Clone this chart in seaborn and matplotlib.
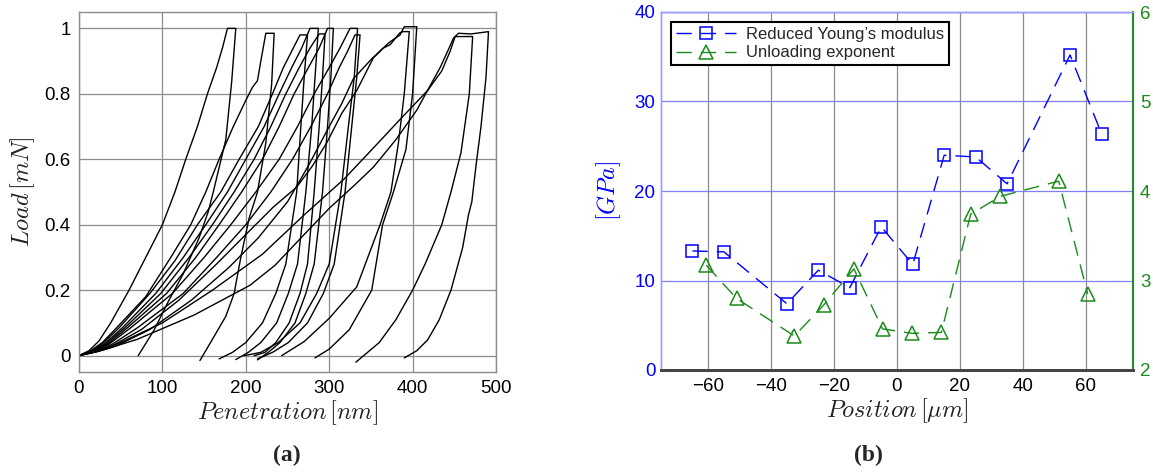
import matplotlib
matplotlib.use("Agg")
import matplotlib.pyplot as plt
import numpy as np
import pandas as pd
import seaborn as sns
from matplotlib.lines import Line2D

# ---------------- data: (a) load-penetration curves ----------------
curve_A_h = [0, 12, 24, 38, 60, 80, 100, 115, 128, 142, 154, 165, 172, 178, 188, 183, 176, 161, 155, 144, 125, 108, 90, 71]
curve_A_p = [0, 0.015, 0.045, 0.1, 0.2, 0.3, 0.4, 0.5, 0.6, 0.7, 0.8, 0.88, 0.94, 1.0, 1.0, 0.835, 0.66, 0.5, 0.44, 0.36, 0.25, 0.17, 0.078, 0.0]

curve_B_h = [0, 14, 28, 45, 80, 110, 134, 152, 168, 185, 200, 208, 214, 218, 224, 234, 231, 224, 214, 204, 194, 186, 176, 160, 145]
curve_B_p = [0, 0.015, 0.04, 0.085, 0.18, 0.3, 0.4, 0.5, 0.6, 0.7, 0.78, 0.82, 0.84, 0.9, 0.985, 0.985, 0.83, 0.65, 0.5, 0.42, 0.3, 0.19, 0.12, 0.05, -0.015]

curve_C_h = [0, 14, 28, 48, 85, 115, 142, 170, 192, 215, 232, 245, 255, 265, 274, 270, 266, 261, 248, 236, 220, 200, 184, 168]
curve_C_p = [0, 0.013, 0.036, 0.085, 0.19, 0.29, 0.4, 0.5, 0.6, 0.7, 0.8, 0.88, 0.93, 0.98, 0.98, 0.85, 0.7, 0.5, 0.28, 0.19, 0.1, 0.04, 0.01, -0.01]

curve_D_h = [0, 15, 30, 52, 92, 125, 152, 178, 200, 222, 240, 255, 267, 277, 287, 283, 279, 272, 262, 251, 237, 218, 203, 188]
curve_D_p = [0, 0.013, 0.035, 0.085, 0.19, 0.3, 0.4, 0.5, 0.6, 0.7, 0.8, 0.88, 0.94, 1.0, 1.0, 0.85, 0.7, 0.5, 0.28, 0.19, 0.1, 0.04, 0.01, -0.012]

curve_E_h = [0, 16, 32, 55, 98, 132, 160, 186, 210, 230, 248, 264, 277, 288, 295, 292, 288, 282, 274, 265, 252, 236, 223, 210]
curve_E_p = [0, 0.013, 0.035, 0.085, 0.19, 0.3, 0.4, 0.5, 0.6, 0.7, 0.8, 0.88, 0.94, 0.983, 0.983, 0.85, 0.7, 0.5, 0.28, 0.19, 0.1, 0.04, 0.01, 0.0]

curve_F_h = [0, 17, 34, 58, 105, 140, 168, 195, 220, 240, 258, 275, 288, 298, 305, 302, 298, 292, 282, 272, 259, 241, 227, 214]
curve_F_p = [0, 0.013, 0.035, 0.085, 0.19, 0.3, 0.4, 0.5, 0.6, 0.7, 0.8, 0.88, 0.94, 1.0, 1.0, 0.85, 0.7, 0.5, 0.28, 0.19, 0.1, 0.04, 0.01, -0.013]

curve_G_h = [0, 18, 36, 62, 112, 150, 182, 212, 240, 262, 282, 300, 313, 325, 334, 330, 323, 314, 300, 285, 265, 239, 218, 198]
curve_G_p = [0, 0.013, 0.035, 0.085, 0.19, 0.3, 0.4, 0.5, 0.6, 0.7, 0.8, 0.88, 0.94, 1.0, 1.0, 0.85, 0.7, 0.5, 0.28, 0.19, 0.1, 0.04, 0.01, 0.0]

curve_H_h = [0, 20, 40, 70, 125, 165, 200, 230, 256, 278, 298, 312, 322, 331, 337, 333, 327, 319, 306, 293, 274, 251, 232, 214]
curve_H_p = [0, 0.013, 0.035, 0.085, 0.19, 0.3, 0.4, 0.5, 0.6, 0.7, 0.8, 0.88, 0.93, 0.98, 0.98, 0.85, 0.7, 0.5, 0.28, 0.19, 0.1, 0.04, 0.01, -0.01]

curve_I_h = [0, 20, 40, 75, 120, 165, 200, 233, 261, 280, 297, 315, 333, 353, 365, 373, 385, 389, 396, 390, 383, 374, 361, 333, 300, 270, 243]
curve_I_p = [0, 0.012, 0.03, 0.08, 0.17, 0.28, 0.37, 0.454, 0.515, 0.58, 0.65, 0.74, 0.81, 0.91, 0.94, 0.95, 0.987, 0.99, 0.99, 0.8, 0.65, 0.5, 0.4, 0.21, 0.114, 0.043, 0.0]

curve_J_h = [0, 22, 45, 85, 135, 180, 215, 250, 275, 300, 315, 329, 351, 372, 385, 390, 405, 400, 392, 377, 364, 351, 324, 300, 283]
curve_J_p = [0, 0.012, 0.03, 0.08, 0.17, 0.27, 0.36, 0.47, 0.58, 0.7, 0.77, 0.846, 0.907, 0.957, 0.98, 1.005, 1.005, 0.8, 0.63, 0.5, 0.4, 0.2, 0.079, 0.02, -0.007]

curve_K_h = [0, 25, 50, 100, 160, 220, 270, 318, 355, 388, 418, 435, 445, 451, 472, 468, 458, 446, 435, 415, 400, 380, 360, 332]
curve_K_p = [0, 0.015, 0.04, 0.1, 0.2, 0.31, 0.43, 0.54, 0.64, 0.73, 0.81, 0.87, 0.93, 0.975, 0.975, 0.8, 0.62, 0.5, 0.4, 0.28, 0.2, 0.11, 0.04, -0.02]

curve_L_h = [0, 30, 70, 138, 205, 235, 270, 300, 330, 353, 380, 405, 420, 433, 442, 449, 455, 470, 491, 488, 482, 476, 471, 467, 460, 446, 432, 418, 405, 390]
curve_L_p = [0, 0.018, 0.05, 0.124, 0.215, 0.276, 0.37, 0.45, 0.52, 0.576, 0.66, 0.75, 0.82, 0.88, 0.93, 0.97, 0.985, 0.983, 0.99, 0.85, 0.7, 0.58, 0.47, 0.43, 0.33, 0.2, 0.11, 0.048, 0.015, -0.007]

# ---------------- data: (b) properties vs position ----------------
position_E = [-65, -55, -35, -25, -15, -5, 5, 15, 25, 35, 55, 65]
modulus_E = [13.3, 13.2, 7.4, 11.15, 9.2, 16.0, 11.8, 24.0, 23.8, 20.8, 35.2, 26.4]
position_n = [-60.6, -51, -32.6, -23.2, -13.7, -4.6, 4.7, 14.1, 23.4, 32.8, 51.4, 60.6]
exponent_n = [3.17, 2.80, 2.38, 2.73, 3.13, 2.46, 2.41, 2.42, 3.74, 3.94, 4.11, 2.85]

label_E = "Reduced Young\u2019s modulus"
label_n = "Unloading exponent"

# ---------------- style ----------------
sns.set_theme(style="white")
plt.rcParams["font.family"] = ["Liberation Sans", "DejaVu Sans"]
plt.rcParams["mathtext.fontset"] = "cm"

BLUE = "#0000ff"
GREEN = "#1a8a1a"
GRID = "#8c8c8c"
DASH = (0, (11, 6.5))
TICK_FS = 13.5

fig = plt.figure(figsize=(11.53, 4.73), dpi=100)
axL = fig.add_axes([79 / 1153, 1 - 372 / 473, (496 - 79) / 1153, (372 - 12) / 473])
axR = fig.add_axes([661 / 1153, 1 - 370 / 473, (1133 - 661) / 1153, (370 - 12) / 473])

# ---------------- panel (a) ----------------
curves = {
    "A": (curve_A_h, curve_A_p), "B": (curve_B_h, curve_B_p), "C": (curve_C_h, curve_C_p),
    "D": (curve_D_h, curve_D_p), "E": (curve_E_h, curve_E_p), "F": (curve_F_h, curve_F_p),
    "G": (curve_G_h, curve_G_p), "H": (curve_H_h, curve_H_p), "I": (curve_I_h, curve_I_p),
    "J": (curve_J_h, curve_J_p), "K": (curve_K_h, curve_K_p), "L": (curve_L_h, curve_L_p),
}
frames = []
for name, (h, p) in curves.items():
    frames.append(pd.DataFrame({"h": h, "p": p, "curve": name}))
df_a = pd.concat(frames, ignore_index=True)

sns.lineplot(data=df_a, x="h", y="p", units="curve", estimator=None, sort=False,
             color="black", linewidth=1.0, ax=axL, legend=False)

axL.set_xlim(0, 500)
axL.set_ylim(-0.05, 1.05)
axL.set_xticks([0, 100, 200, 300, 400, 500])
axL.set_yticks([0, 0.2, 0.4, 0.6, 0.8, 1.0])
axL.set_yticklabels(["0", "0.2", "0.4", "0.6", "0.8", "1"])
axL.grid(True, color=GRID, linewidth=0.9)
axL.set_axisbelow(True)
for s in axL.spines.values():
    s.set_color(GRID)
    s.set_linewidth(1.0)
axL.tick_params(length=0, labelsize=TICK_FS, colors="black", pad=6)
axL.set_xlabel(r"$Penetration\,[nm]$", fontsize=17.5, color="#222222", labelpad=1)
axL.set_ylabel(r"$Load\,[mN]$", fontsize=17.5, color="#222222", labelpad=5)

# ---------------- panel (b) ----------------
axR2 = axR.twinx()

sns.lineplot(x=position_E, y=modulus_E, ax=axR, color=BLUE, linewidth=1.0,
             marker="s", markersize=8.5, markerfacecolor="none",
             markeredgecolor=BLUE, markeredgewidth=1.1, linestyle=DASH,
             sort=False, estimator=None, legend=False)
sns.lineplot(x=position_n, y=exponent_n, ax=axR2, color=GREEN, linewidth=1.0,
             marker="^", markersize=10, markerfacecolor="none",
             markeredgecolor=GREEN, markeredgewidth=1.1, linestyle=DASH,
             sort=False, estimator=None, legend=False)

axR.set_xlim(-75, 75)
axR.set_ylim(0, 40)
axR2.set_ylim(2, 6)
axR.set_xticks([-60, -40, -20, 0, 20, 40, 60])
axR.set_yticks([0, 10, 20, 30, 40])
axR2.set_yticks([2, 3, 4, 5, 6])

axR.xaxis.grid(True, color=GRID, linewidth=0.9)
axR.yaxis.grid(True, color="#7f7fff", linewidth=0.9)
axR.set_axisbelow(True)
axR2.grid(False)

axR.tick_params(axis="x", length=0, labelsize=TICK_FS, colors="black", pad=6)
axR.tick_params(axis="y", length=0, labelsize=TICK_FS, labelcolor=BLUE, pad=4)
axR2.tick_params(axis="y", length=0, labelsize=TICK_FS, labelcolor=GREEN, pad=5)

for ax in (axR, axR2):
    ax.spines["top"].set_color("#9a9aff")
    ax.spines["left"].set_color("#9a9aff")
    ax.spines["right"].set_color(GREEN)
    ax.spines["bottom"].set_color("#444444")
    ax.spines["bottom"].set_linewidth(2.0)
    ax.spines["right"].set_linewidth(1.2)
    ax.spines["left"].set_linewidth(1.0)
    ax.spines["top"].set_linewidth(1.0)

axR.set_xlabel(r"$Position\,[\mu m]$", fontsize=17.5, color="#222222", labelpad=1)
axR.set_ylabel(r"$[GPa]$", fontsize=17.5, color=BLUE, labelpad=8)
axR2.set_ylabel("")

h1 = Line2D([], [], color=BLUE, linewidth=1.0, linestyle=DASH, marker="s",
            markersize=8.5, markerfacecolor="none", markeredgecolor=BLUE, markeredgewidth=1.1)
h2 = Line2D([], [], color=GREEN, linewidth=1.0, linestyle=DASH, marker="^",
            markersize=10, markerfacecolor="none", markeredgecolor=GREEN, markeredgewidth=1.1)
leg = axR2.legend([h1, h2], [label_E, label_n], loc="upper left",
                  bbox_to_anchor=(0.021, 0.972), borderaxespad=0, frameon=True,
                  fancybox=False, fontsize=12, handlelength=3.6, handletextpad=0.6,
                  borderpad=0.3, labelspacing=0.2)
leg.get_frame().set_edgecolor("black")
leg.get_frame().set_linewidth(1.5)
leg.get_frame().set_alpha(1)

# panel captions
fig.text(287 / 1153, 1 - 455 / 473, "(a)", ha="center", va="center", fontsize=17,
         fontweight="bold", family=["Liberation Serif", "DejaVu Serif"])
fig.text(868 / 1153, 1 - 455 / 473, "(b)", ha="center", va="center", fontsize=17,
         fontweight="bold", family=["Liberation Serif", "DejaVu Serif"])

fig.savefig("out.png", dpi=100)
